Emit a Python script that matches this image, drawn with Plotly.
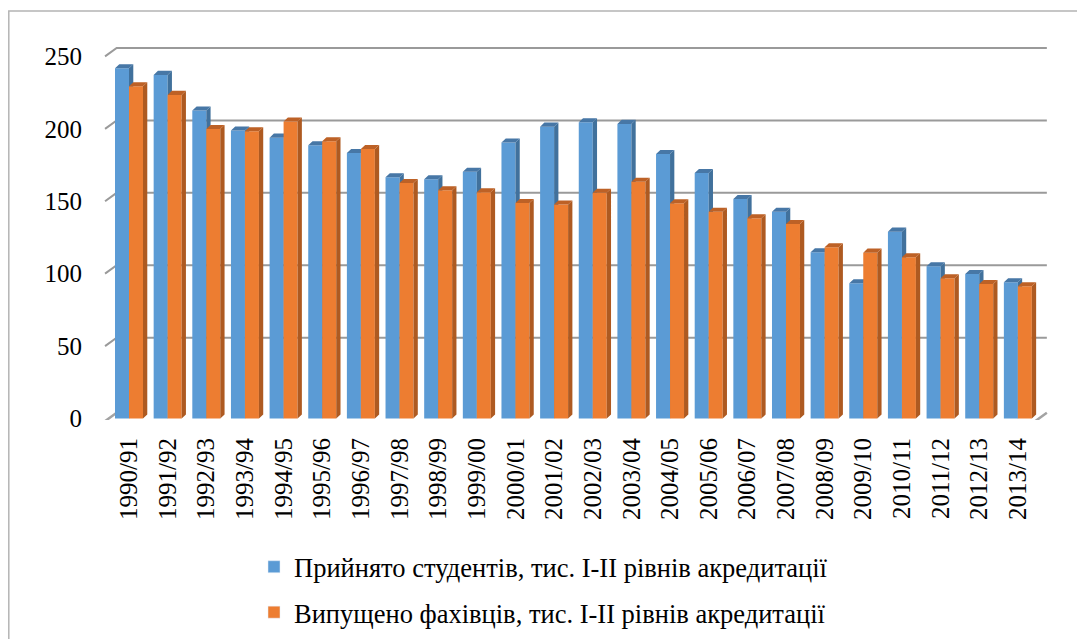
import plotly.graph_objects as go

# ---------------- data ----------------
years = ["1990/91", "1991/92", "1992/93", "1993/94", "1994/95", "1995/96",
         "1996/97", "1997/98", "1998/99", "1999/00", "2000/01", "2001/02",
         "2002/03", "2003/04", "2004/05", "2005/06", "2006/07", "2007/08",
         "2008/09", "2009/10", "2010/11", "2011/12", "2012/13", "2013/14"]
admitted = [241.8, 237.2, 212.6, 198.8, 193.9, 188.6, 183.3, 166.5, 165.2, 170.4,
            190.5, 201.5, 204.5, 203.4, 182.6, 169.5, 151.6, 142.8, 114.8, 93.4,
            129.0, 105.1, 99.8, 94.1]
graduated = [229.4, 223.4, 199.9, 198.3, 205.0, 191.4, 186.1, 162.6, 157.6, 156.2,
             148.8, 147.7, 155.9, 163.5, 148.6, 142.8, 138.2, 134.3, 118.2, 114.5,
             111.3, 96.8, 92.9, 91.3]
y_ticks = [0, 50, 100, 150, 200, 250]
name_admitted = "Прийнято студентів, тис. І-ІІ рівнів акредитації"
name_graduated = "Випущено фахівців, тис. І-ІІ рівнів акредитації"

# ---------------- style / geometry ----------------
FONT = "Liberation Serif"
BAR_W = 0.362      # front face width (category units)
DX, DY = 0.111, 2.8  # bar depth offset
WDX, WDY = 0.30, 5.8  # wall depth offset
X_FRONT_L, X_FRONT_R = -0.62, 23.45
BLUE, BLUE_SIDE, BLUE_TOP = "#5B9BD5", "#41719C", "#4777A6"
ORANGE, ORANGE_SIDE, ORANGE_TOP = "#ED7D31", "#AE5A21", "#BD6126"
GRID = "#9a9a9a"


def faces(values, offset):
    fx, fy, sx, sy, tx, ty = [], [], [], [], [], []
    for i, v in enumerate(values):
        x0 = i + offset
        x1 = x0 + BAR_W
        fx += [x0, x1, x1, x0, x0, None]
        fy += [0, 0, v, v, 0, None]
        sx += [x1, x1 + DX, x1 + DX, x1, x1, None]
        sy += [0, DY, v + DY, v, 0, None]
        tx += [x0, x1, x1 + DX, x0 + DX, x0, None]
        ty += [v, v, v + DY, v + DY, v, None]
    return (fx, fy), (sx, sy), (tx, ty)


fig = go.Figure()

# legend-only bar entries
fig.add_trace(go.Bar(x=[None], y=[None], name=name_admitted, marker_color=BLUE,
                     legendgroup="a"))
fig.add_trace(go.Bar(x=[None], y=[None], name=name_graduated, marker_color=ORANGE,
                     legendgroup="b"))

for vals, off, cols in [(admitted, -BAR_W, (BLUE, BLUE_SIDE, BLUE_TOP)),
                        (graduated, 0.0, (ORANGE, ORANGE_SIDE, ORANGE_TOP))]:
    for (xs, ys), col in zip(faces(vals, off), cols):
        fig.add_trace(go.Scatter(x=xs, y=ys, mode="lines", fill="toself",
                                 fillcolor=col, line=dict(width=0, color=col),
                                 showlegend=False, hoverinfo="skip"))

shapes = []
# floor (front edge with depth stubs)
FY = -1.8
shapes.append(dict(type="path", xref="x", yref="y", layer="below",
                   path=f"M{X_FRONT_L + WDX},{FY + WDY} L{X_FRONT_L},{FY} L{X_FRONT_R},{FY} "
                        f"L{X_FRONT_R + WDX},{FY + WDY}",
                   line=dict(color="#a3a3a3", width=2.5)))
# gridlines on back wall with left-wall stub
for t in y_ticks[1:]:
    shapes.append(dict(type="path", xref="x", yref="y", layer="below",
                       path=f"M{X_FRONT_L},{t} L{X_FRONT_L + WDX},{t + WDY} "
                            f"L{X_FRONT_R + WDX},{t + WDY}",
                       line=dict(color=GRID, width=2)))

# page body has an 8px offset -> compensate
OFF = 8
L, T, W, H = 104 - OFF, 39 - OFF, 944, 381
R = 1085 - L - W
B_ = 639 - T - H


def px(p):
    return (p - OFF - L) / W


def py(p):
    return (T + H - (p - OFF)) / H


# chart frame
shapes.append(dict(type="path", xref="paper", yref="paper",
                   path=f"M{px(8.8)},{py(700)} L{px(8.8)},{py(11)} L{px(1200)},{py(11)}",
                   line=dict(color="#b4b4b4", width=1.5)))

fig.update_layout(
    width=1085, height=639,
    margin=dict(l=L, r=R, t=T, b=B_, autoexpand=False),
    paper_bgcolor="white", plot_bgcolor="white",
    font=dict(family=FONT, size=25, color="black"),
    shapes=shapes,
    showlegend=True,
    legend=dict(xref="container", yref="container", x=(254 - OFF) / 1085,
                y=1 - (543 - OFF) / 639,
                xanchor="left", yanchor="top", orientation="v",
                font=dict(family=FONT, size=26.5, color="black"),
                tracegroupgap=8, bgcolor="rgba(0,0,0,0)"),
    xaxis=dict(type="linear", range=[-0.647, 23.78], tickmode="array",
               tickvals=list(range(len(years))),
               ticktext=years, tickangle=-90, showgrid=False, zeroline=False,
               showline=False, ticks="", ticklabelstandoff=12, automargin=False,
               tickfont=dict(family=FONT, size=25, color="black")),
    yaxis=dict(type="linear", range=[-1, 262], tickmode="array", tickvals=y_ticks,
               showgrid=False, zeroline=False, showline=False, ticks="",
               ticklabelstandoff=21, automargin=False,
               tickfont=dict(family=FONT, size=25, color="black")),
)

fig.write_html("out.html")
